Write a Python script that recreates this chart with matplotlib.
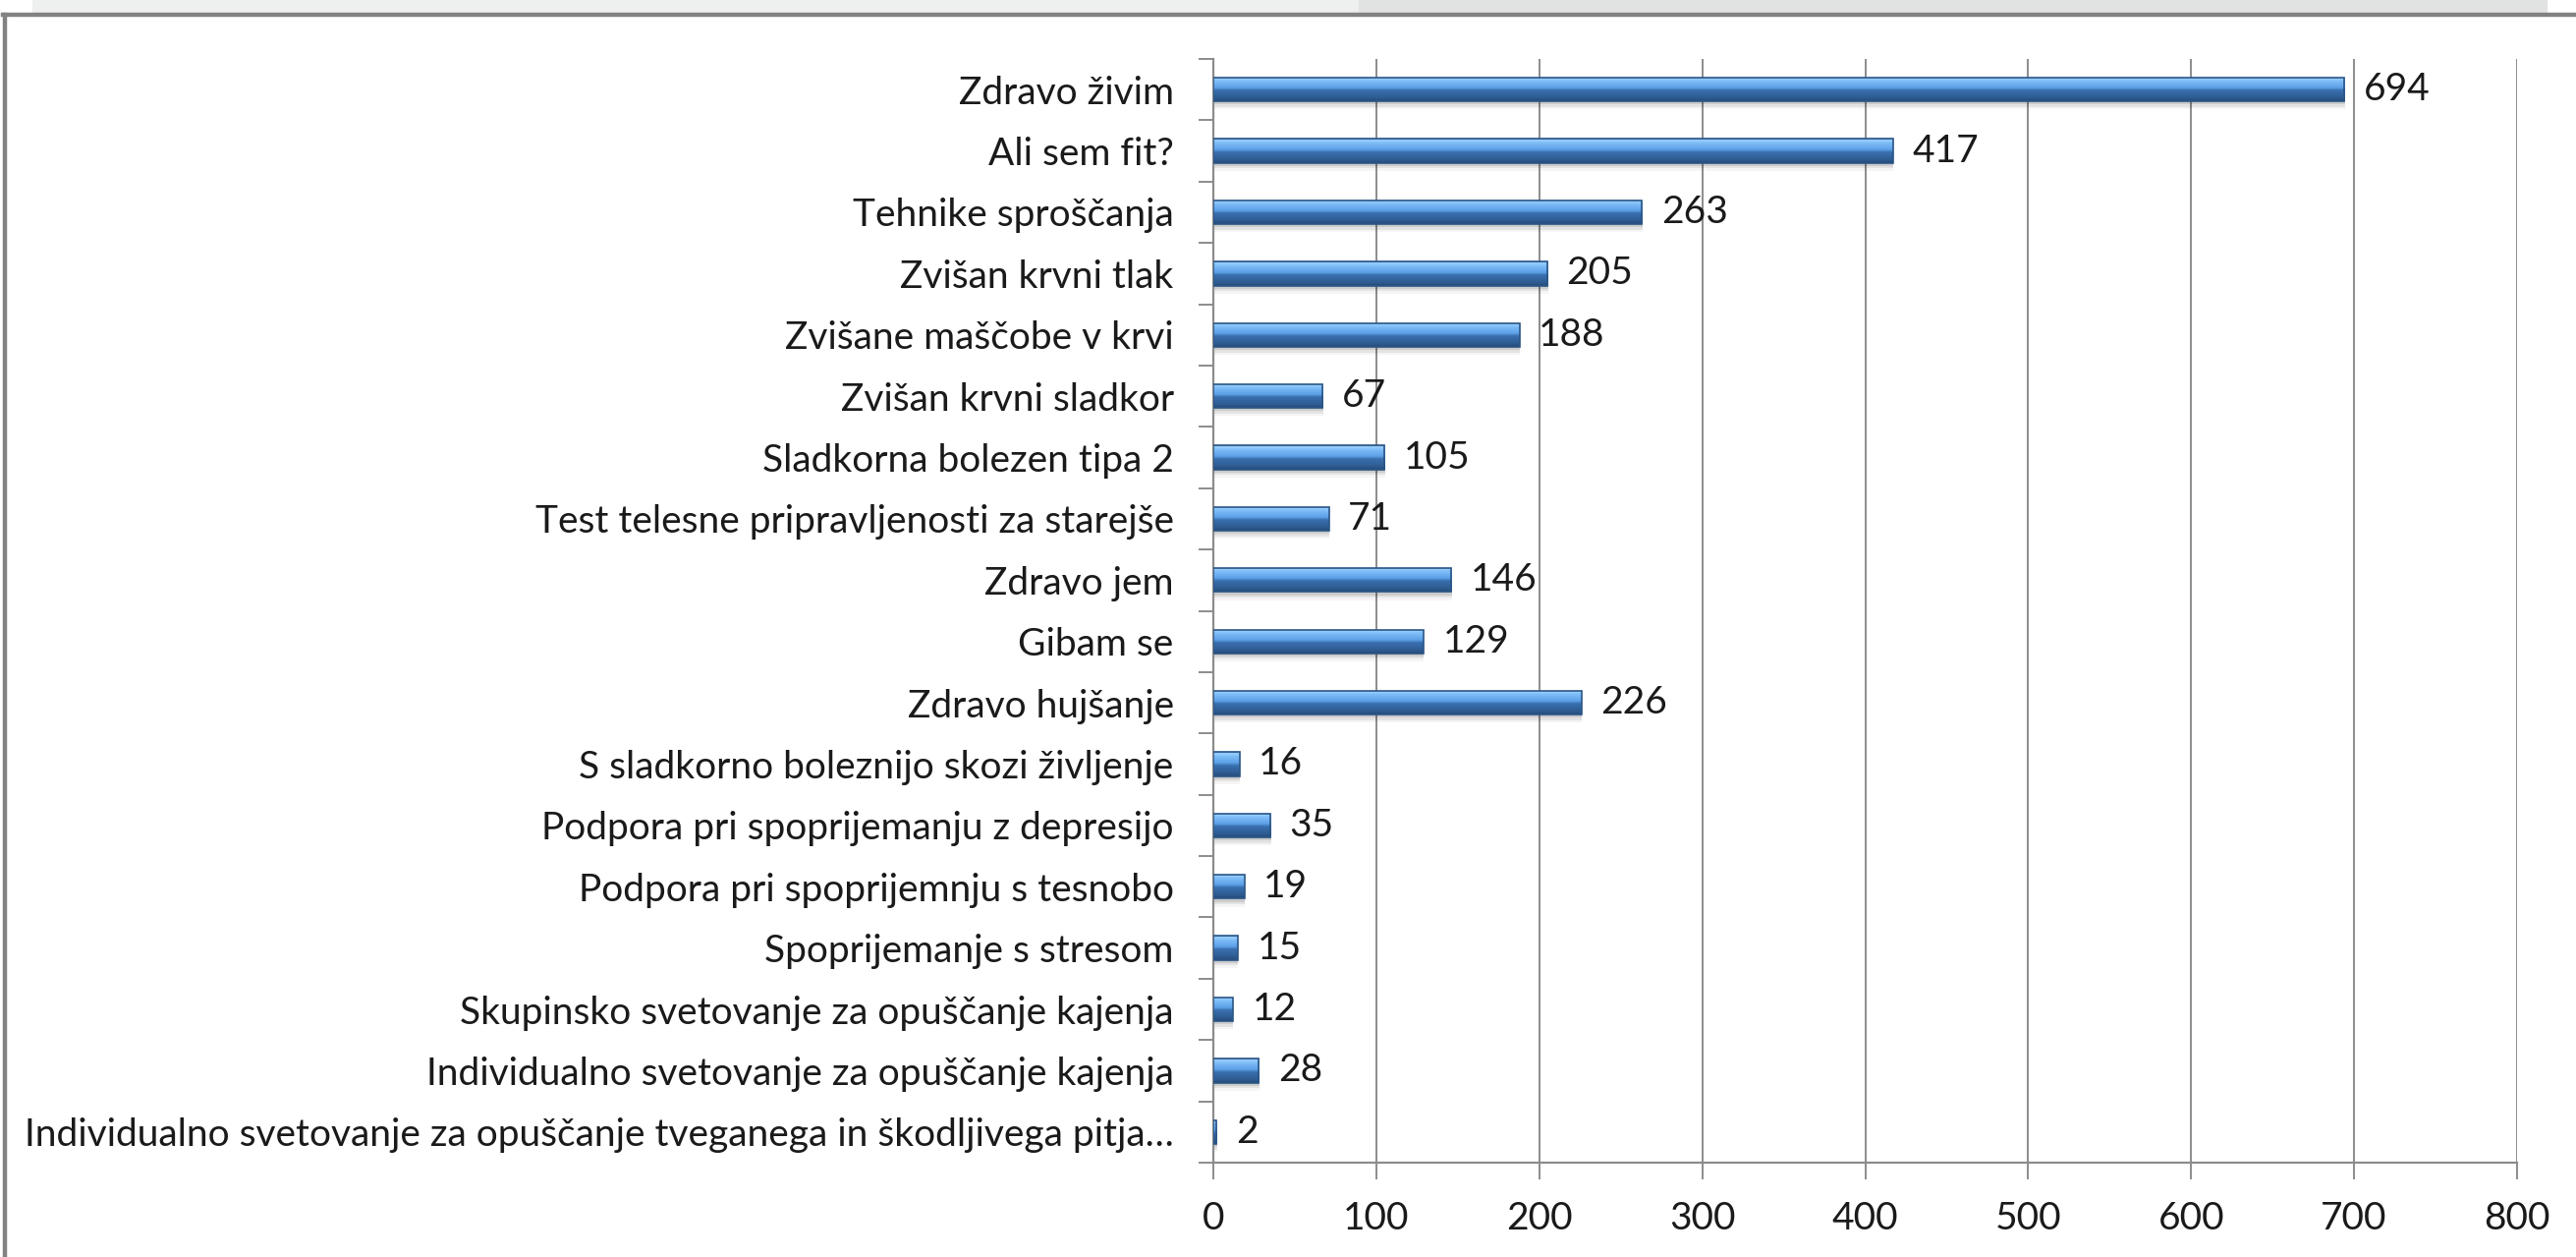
import numpy as np
import matplotlib
matplotlib.use("Agg")
import matplotlib.pyplot as plt
from matplotlib.colors import LinearSegmentedColormap
from matplotlib.patches import Rectangle
from matplotlib.lines import Line2D

# data (top to bottom as in the chart)
categories = [
    "Zdravo živim",
    "Ali sem fit?",
    "Tehnike sproščanja",
    "Zvišan krvni tlak",
    "Zvišane maščobe v krvi",
    "Zvišan krvni sladkor",
    "Sladkorna bolezen tipa 2",
    "Test telesne pripravljenosti za starejše",
    "Zdravo jem",
    "Gibam se",
    "Zdravo hujšanje",
    "S sladkorno boleznijo skozi življenje",
    "Podpora pri spoprijemanju z depresijo",
    "Podpora pri spoprijemnju s tesnobo",
    "Spoprijemanje s stresom",
    "Skupinsko svetovanje za opuščanje kajenja",
    "Individualno svetovanje za opuščanje kajenja",
    "Individualno svetovanje za opuščanje tveganega in škodljivega pitja…",
]
values = [694, 417, 263, 205, 188, 67, 105, 71, 146, 129, 226, 16, 35, 19, 15, 12, 28, 2]
x_ticks = [0, 100, 200, 300, 400, 500, 600, 700, 800]

FONT = "Lato"
FS = 28
GRID = "#8c8c8c"

plt.rcParams["font.family"] = [FONT, "DejaVu Sans"]

W, H, DPI = 2622, 1279, 100
fig = plt.figure(figsize=(W / DPI, H / DPI), dpi=DPI)
fig.patch.set_facecolor("white")

# window banner and chart frame
fig.patches.append(Rectangle((33 / W, 1 - 13 / H), (1383 - 33) / W, 13 / H,
                             transform=fig.transFigure, color="#eef0ef", zorder=0))
fig.patches.append(Rectangle((1383 / W, 1 - 13 / H), (2592 - 1383) / W, 13 / H,
                             transform=fig.transFigure, color="#e1e2e2", zorder=0))
fig.lines.append(Line2D([3 / W, 1], [1 - 15 / H, 1 - 15 / H], transform=fig.transFigure,
                        color="#828282", lw=3.2))
fig.lines.append(Line2D([4.5 / W, 4.5 / W], [0, 1 - 15 / H], transform=fig.transFigure,
                        color="#828282", lw=3.2))

ax = fig.add_axes([1235 / W, 1 - 1183 / H, (2562 - 1235) / W, (1183 - 60) / H])

y = np.arange(len(categories))
bar_h = 0.39

# soft shadow under each bar
for k, a in enumerate([0.10, 0.07, 0.04]):
    ax.barh(y + 0.05 + 0.04 * k, values, height=bar_h, left=0.3,
            color="#000000", alpha=a, lw=0, zorder=2)

bars = ax.barh(y, values, height=bar_h, color="#4a86c8", lw=0, zorder=3)

# light on top, dark at the bottom
cmap = LinearSegmentedColormap.from_list(
    "bar3d",
    [(0.0, "#234a78"), (0.12, "#2d5a8f"), (0.45, "#3a70b0"),
     (0.55, "#5c9fe6"), (0.85, "#80bff9"), (0.94, "#9ed2ff"), (1.0, "#5d9ad8")],
)
grad = np.linspace(1, 0, 64).reshape(-1, 1)
for b in bars:
    x0, y0 = b.get_x(), b.get_y()
    w, h = b.get_width(), b.get_height()
    im = ax.imshow(grad, cmap=cmap, aspect="auto", origin="upper",
                   extent=(x0, x0 + w, y0 + h, y0), zorder=4, interpolation="bilinear")
    im.set_clip_path(b)

# thin dark rim around each bar
ax.barh(y, values, height=bar_h, facecolor="none", edgecolor="#2b5686",
        lw=1.2, zorder=4.5)

for yi, v in zip(y, values):
    ax.annotate(str(v), (v, yi), xytext=(14, 0), textcoords="offset points",
                va="center", ha="left", fontsize=FS, color="#1a1a1a", zorder=5)

ax.set_xlim(0, 800)
ax.set_ylim(len(categories) - 0.5, -0.5)
ax.set_xticks(x_ticks)
ax.set_xticklabels([str(t) for t in x_ticks], fontsize=FS, color="#1a1a1a")
ax.set_yticks(y)
ax.set_yticklabels(categories, fontsize=FS, color="#1a1a1a")
ax.set_yticks(np.arange(len(categories) + 1) - 0.5, minor=True)

ax.tick_params(axis="y", which="major", length=0, pad=29)
ax.tick_params(axis="y", which="minor", length=11, width=1.4, color=GRID)
ax.tick_params(axis="x", which="major", length=12, width=1.4, color=GRID, pad=16)

ax.grid(axis="x", color=GRID, lw=1.4, zorder=1)
ax.set_axisbelow(True)
for s in ["top", "right"]:
    ax.spines[s].set_visible(False)
for s in ["left", "bottom"]:
    ax.spines[s].set_color(GRID)
    ax.spines[s].set_linewidth(1.6)

fig.savefig("out.png", dpi=DPI)
